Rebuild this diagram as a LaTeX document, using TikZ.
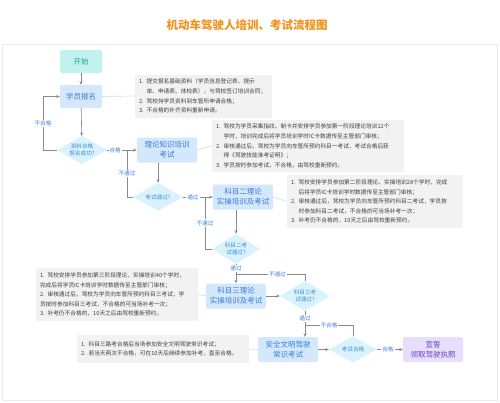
\documentclass[tikz,border=0pt]{standalone}
\usepackage{fontspec}
\setmainfont{Noto Sans CJK SC}
\usetikzlibrary{shapes.geometric,arrows.meta}
\definecolor{startfill}{HTML}{C2F2EE}
\definecolor{starttext}{HTML}{1FA396}
\definecolor{bluefill}{HTML}{D4E7FB}
\definecolor{bluetext}{HTML}{3A7FD8}
\definecolor{diafill}{HTML}{DAF2FB}
\definecolor{diatext}{HTML}{3C8EDB}
\definecolor{notefill}{HTML}{F2F2F2}
\definecolor{notetext}{HTML}{404040}
\definecolor{purpfill}{HTML}{E6DEFA}
\definecolor{purptext}{HTML}{6B43C2}
\definecolor{linegray}{HTML}{8A8A8A}
\definecolor{linklight}{HTML}{DADADA}
\definecolor{titleorange}{HTML}{F2921F}
\definecolor{framegray}{HTML}{EBEBEB}
\tikzset{
  box/.style={rectangle, rounded corners=2pt, fill=bluefill, text=bluetext,
    font=\fontsize{7.5}{10}\selectfont, align=center, inner sep=1pt,
    minimum width=60pt, minimum height=25pt},
  dia/.style={diamond, aspect=2, inner sep=0pt, fill=diafill, text=diatext,
    font=\fontsize{5.6}{7}\selectfont, align=center},
  note/.style={rectangle, fill=notefill, text=notetext, align=left,
    font=\fontsize{5.7}{9.6}\selectfont, inner sep=4pt},
  arr/.style={draw=linegray, line width=0.6pt, -{Stealth[length=3.5pt,width=3pt]}},
  plain/.style={draw=linegray, line width=0.6pt},
  link/.style={draw=linklight, line width=0.6pt},
  lbl/.style={fill=white, inner sep=1pt, text=bluetext, font=\fontsize{5.6}{6}\selectfont}
}
\newcommand{\ind}{\phantom{1. }}
\begin{document}
\begin{tikzpicture}[x=1pt,y=-1pt]
\useasboundingbox (0,0) rectangle (500,402);
\fill[white] (0,0) rectangle (500,402);
\draw[framegray, line width=0.8pt] (2,44) rectangle (497,400);

\node[text=titleorange, font=\fontsize{11.5}{13}\bfseries] (title) at (247,25) {机动车驾驶人培训、考试流程图};

% flow nodes
\node[box, fill=startfill, text=starttext, minimum width=42pt, minimum height=23pt] (start) at (81,61.5) {开始};
\node[box, minimum width=42pt, minimum height=23pt] (reg) at (81,96.5) {学员报名};
\node[dia, minimum width=50pt, minimum height=28pt] (d1) at (82,150) {资料合格\\报名成功?};
\node[box] (t1) at (167,150) {理论知识培训\\考试};
\node[dia, minimum width=50pt, minimum height=28pt] (d2) at (158,197) {考试通过?};
\node[box] (k2) at (243,197) {科目二理论\\实操培训及考试};
\node[dia, minimum width=48pt, minimum height=30pt] (d3) at (236,249) {科目二考\\试通过?};
\node[box] (k3) at (236,296) {科目三理论\\实操培训及考试};
\node[dia, minimum width=50pt, minimum height=30pt] (d4) at (305,296) {科目三考\\试通过?};
\node[box] (s) at (288,349.5) {安全文明驾驶\\常识考试};
\node[dia, minimum width=48pt, minimum height=26pt] (d5) at (353,349.5) {考试合格};
\node[box, fill=purpfill, text=purptext] (xs) at (433,349.5) {宣誓\\领取驾驶执照};

% notes
\node[note, text width=129pt, minimum height=43pt] (n1) at (203.5,96) {1. 提交报名基础资料（学员信息登记表、提示\\
\ind 单、申请表、体检表），与驾校签订培训合同；\\
2. 驾校持学员资料到车管所申请合格；\\
3. 不合格的补齐资料重新申请。};
\node[note, text width=184pt, minimum height=52pt] (n2) at (308,146) {1. 驾校为学员采集指纹、制卡并安排学员参加第一阶段理论培训12个\\
\ind 学时，培训完成后将学员培训学时IC卡数据传至主管部门审核；\\
2. 审核通过后，驾校为学员向车管所预约科目一考试，考试合格后获\\
\ind 得《驾驶技能准考证明》；\\
3. 学员按时参加考试，不合格，由驾校重新预约。};
\node[note, text width=168pt, minimum height=53pt] (n3) at (375,201.5) {1. 驾校安排学员参加第二阶段理论、实操培训28个学时，完成\\
\ind 后将学员IC卡培训学时数据传至主管部门审核；\\
2. 审核通过后，驾校为学员向车管所预约科目二考试，学员按\\
\ind 时参加科目二考试，不合格的可当场补考一次；\\
3. 补考仍不合格的，10天之后由驾校重新预约。};
\node[note, text width=154pt, minimum height=53pt] (n4) at (117,294.5) {1. 驾校安排学员参加第三阶段理论、实操培训40个学时，\\
完成后将学员IC卡培训学时数据传至主管部门审核；\\
2. 审核通过后，驾校为学员向车管所预约科目三考试，学\\
员按时参加科目三考试，不合格的可当场补考一次；\\
3. 补考仍不合格的，10天之后由驾校重新预约。};
\node[note, text width=164pt, minimum height=28pt] (n5) at (163,349) {1. 科目三路考合格后当场参加安全文明驾驶常识考试；\\
2. 若当天两次不合格，可在10天后继续参加补考，直至合格。};

% note links
\draw[link] (reg.east) -- (n1.west);
\draw[link] (t1.east) -- (n2.west);
\draw[link] (k2.east) -- (n3.west);
\draw[link] (n4.east) -- (k3.west);
\draw[link] (n5.east) -- (s.west);

% bend coordinates
\coordinate (c1) at (43,150);
\coordinate (c1b) at (43,96.5);
\coordinate (c2) at (127,197);
\coordinate (c2b) at (127,150);
\coordinate (c3) at (205,249);
\coordinate (c3b) at (205,197);
\coordinate (c4) at (305,274);
\coordinate (c4b) at (236,274);
\coordinate (c5) at (353,325);
\coordinate (c5b) at (305,325);

% main flow
\draw[arr] (start) -- (reg);
\draw[arr] (reg) -- (d1);
\draw[arr] (d1.east) -- node[lbl, pos=0.27] {合格} (t1.west);
\draw[arr] (t1.south -| d2.north) -- (d2.north);
\draw[arr] (d2.east) -- node[lbl, pos=0.33] {通过} (k2.west);
\draw[arr] (k2.south -| d3.north) -- (d3.north);
\draw[arr] (d3.south) -- node[lbl, pos=0.22] {通过} (k3.north);
\draw[arr] (k3.east) -- (d4.west);
\draw[arr] (d4.south) -- node[lbl, pos=0.27] {通过} (d4.south |- s.north);
\draw[arr] (s.east) -- (d5.west);
\draw[arr] (d5.east) -- node[lbl, pos=0.42] {合格} (xs.west);

% loops
\draw[arr] (d1.west) -- (c1) -- node[lbl] {不合格} (c1b) -- (reg.west);
\draw[plain] (d2.west) -- (c2) -- node[lbl] {不通过} (c2b);
\draw[plain] (d3.west) -- (c3) -- node[lbl] {不通过} (c3b);
\draw[plain] (d4.north) -- (c4) -- node[lbl, pos=0.4] {不通过} (c4b);
\draw[plain] (d5.north) -- (c5) -- node[lbl] {不合格} (c5b);
\end{tikzpicture}
\end{document}
